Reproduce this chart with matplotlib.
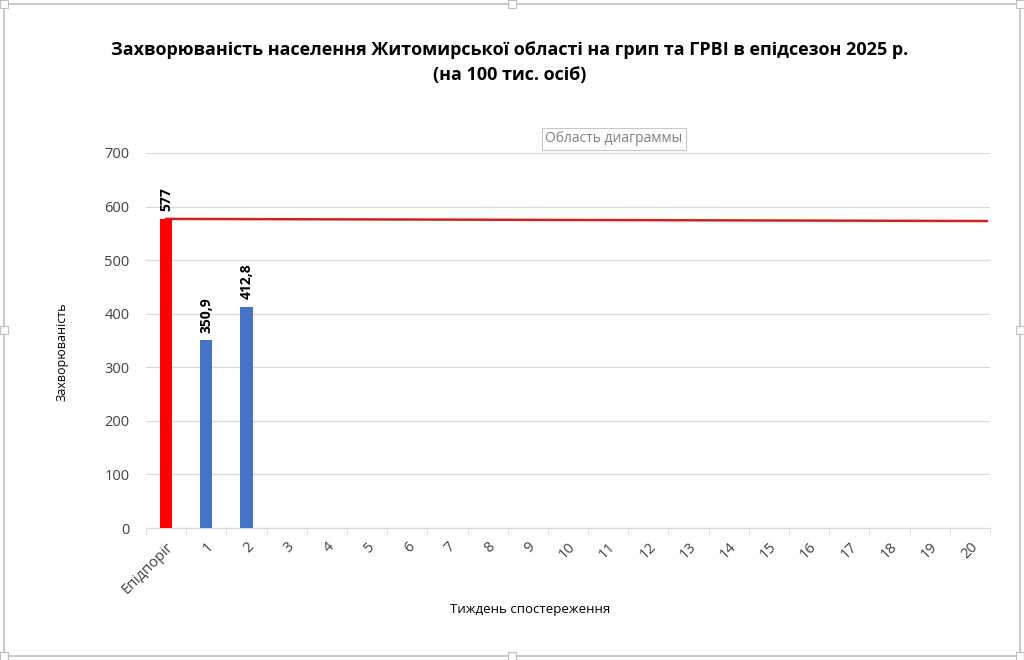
import numpy as np
import matplotlib.pyplot as plt
from matplotlib.patches import Rectangle

plt.rcParams['font.family'] = ['Open Sans', 'DejaVu Sans']

# data
categories = ["Епідпоріг"] + [str(i) for i in range(1, 21)]
threshold_value = 577
week_values = [350.9, 412.8]          # weeks observed so far
threshold_line = [577, 573]           # slightly sloped red line, start / end
title = ("Захворюваність населення Житомирської області на грип та ГРВІ в епідсезон 2025 р.\n"
         "(на 100 тис. осіб)")
ylabel = "Захворюваність"
xlabel = "Тиждень спостереження"

fig = plt.figure(figsize=(10.24, 6.6), dpi=100)
ax = fig.add_axes([146/1024, 1-528/660, 844/1024, 375/660])

x = np.arange(len(categories))
bw = 0.3

# threshold line (behind bars)
ax.plot([x[0], len(categories) - 0.58], threshold_line, color="#d42020", lw=1.8, zorder=2)

ax.bar(x[0], threshold_value, width=bw, color="#ff0000", zorder=3)
ax.bar(x[1:1+len(week_values)], week_values, width=bw, color="#4472c4", zorder=3)

def fmt(v):
    return str(v).replace(".", ",") if v != int(v) else str(int(v))

for xi, v in zip(x[:1+len(week_values)], [threshold_value] + week_values):
    ax.text(xi, v + 14, fmt(v), rotation=90, ha="center", va="bottom",
            fontsize=10, fontweight="bold", color="black", zorder=4)

ax.set_xlim(-0.5, len(categories) - 0.5)
ax.set_ylim(0, 700)
ax.set_yticks(np.arange(0, 701, 100))
ax.yaxis.grid(True, color="#d9d9d9", lw=0.9)
ax.set_axisbelow(True)
for s in ["top", "right", "left"]:
    ax.spines[s].set_visible(False)
ax.spines["bottom"].set_color("#d9d9d9")
ax.tick_params(axis="y", length=0, labelsize=10.5, colors="#404040", pad=12)

ax.set_xticks(x)
ax.set_xticklabels(categories, rotation=45, ha="right", rotation_mode="anchor",
                   fontsize=10.5, color="#404040")
ax.set_xticks(np.arange(-0.5, len(categories), 1), minor=True)
ax.tick_params(axis="x", which="major", length=0, pad=8)
ax.tick_params(axis="x", which="minor", length=5, color="#d9d9d9")

fig.text(0.498, 0.905, title, ha="center", va="center", fontsize=13,
         fontweight="bold", linespacing=1.5)
fig.text(62/1024, 1-352/660, ylabel, rotation=90, ha="center", va="center", fontsize=9)
fig.text(530/1024, 1-610/660, xlabel, ha="center", va="center", fontsize=9.5)

# "chart area" tooltip as seen in the screenshot
fig.text(614/1024, 1-139/660, "Область диаграммы", ha="center", va="center",
         fontsize=10, color="#808080",
         bbox=dict(boxstyle="square,pad=0.25", fc="white", ec="#c8c8c8", lw=0.8))

# selection frame with handles
fig.patches.append(Rectangle((4/1024, 4/660), 1-8/1024, 1-8/660, transform=fig.transFigure,
                             fill=False, ec="#bfbfbf", lw=1.2))
for hx, hy in [(0.5, 1-4/660), (0.5, 4/660), (4/1024, 0.5), (1-4/1024, 0.5),
               (4/1024, 1-4/660), (1-4/1024, 1-4/660), (4/1024, 4/660), (1-4/1024, 4/660)]:
    fig.patches.append(Rectangle((hx - 4/1024, hy - 4/660), 8/1024, 8/660,
                                 transform=fig.transFigure, fc="white", ec="#bfbfbf", lw=0.8))

fig.savefig("out.png", dpi=100)
